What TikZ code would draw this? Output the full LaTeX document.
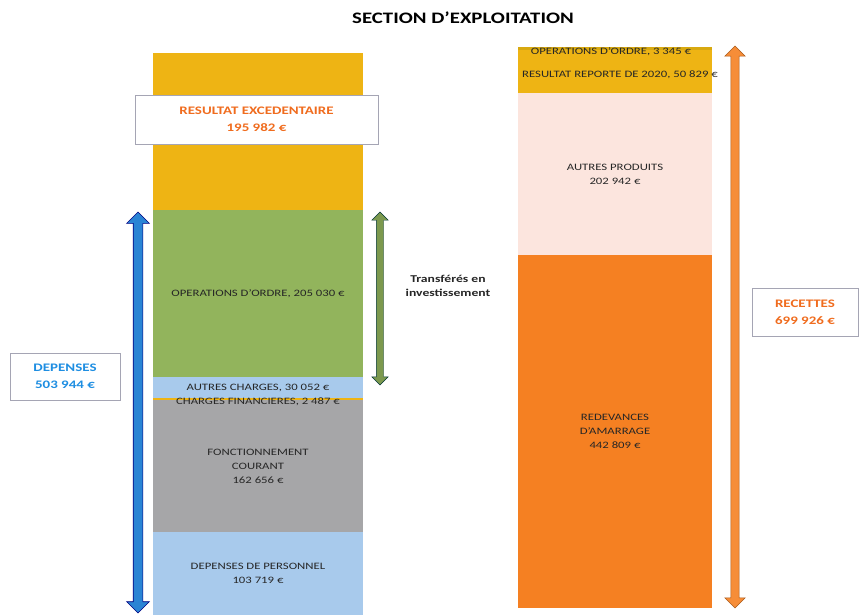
\documentclass[tikz,border=0pt]{standalone}
\usepackage{fontspec}
\setmainfont{Carlito}[FakeStretch=1.3]
\usetikzlibrary{shapes,arrows,shapes.geometric}

\definecolor{jaune}{RGB}{238,180,20}
\definecolor{vert}{RGB}{146,180,92}
\definecolor{bleuclair}{RGB}{168,202,236}
\definecolor{gris}{RGB}{166,166,168}
\definecolor{rose}{RGB}{252,229,222}
\definecolor{orange}{RGB}{245,128,34}
\definecolor{bleu}{RGB}{42,132,212}
\definecolor{textorange}{RGB}{240,108,30}
\definecolor{textbleu}{RGB}{30,142,226}
\definecolor{cadre}{RGB}{165,165,180}

\begin{document}
\begin{tikzpicture}[
	x=1pt, y=-1pt,
	bloc/.style={anchor=north west,inner sep=0,outer sep=0,align=center,text=black!85,font=\fontsize{9.8}{14}\selectfont},
	txt/.style={inner sep=0,align=center,text=black!85,font=\fontsize{9.8}{14}\selectfont},
	etiquette/.style={draw=cadre,fill=white,line width=0.6pt,inner sep=0,align=center,font=\bfseries\fontsize{11.5}{17}\selectfont},
	fleche/.style={double arrow,rotate=90,inner sep=4.5pt,double arrow head extend=6.5pt,double arrow tip angle=90,line width=0.6pt}
	]
	\useasboundingbox (0,0) rectangle (860,615);
	\node [font=\bfseries\fontsize{16}{18}\selectfont] (titre) at (463,18) {SECTION D'EXPLOITATION};

	\node [bloc,fill=jaune,minimum width=210,minimum height=157] (excedent) at (153,53) {};
	\node [bloc,fill=vert,minimum width=210,minimum height=167] (ordre) at (153,210) {OPERATIONS D'ORDRE, 205 030 €};
	\node [bloc,fill=bleuclair,minimum width=210,minimum height=21] (autres) at (153,377) {AUTRES CHARGES, 30 052 €};
	\node [bloc,fill=jaune,minimum width=210,minimum height=2] (financieres) at (153,398) {};
	\node [bloc,fill=gris,minimum width=210,minimum height=132] (courant) at (153,400) {FONCTIONNEMENT\\COURANT\\162 656 €};
	\node [bloc,fill=bleuclair,minimum width=210,minimum height=83] (personnel) at (153,532) {DEPENSES DE PERSONNEL\\103 719 €};
	\node [txt] (financierestxt) at (258,402) {CHARGES FINANCIERES, 2 487 €};

	\node [bloc,fill=jaune!80!olive,minimum width=194,minimum height=3] (ordrerec) at (518,47) {};
	\node [bloc,fill=jaune,minimum width=194,minimum height=43] (reporte) at (518,50) {};
	\node [bloc,fill=rose,minimum width=194,minimum height=162] (produits) at (518,93) {AUTRES PRODUITS\\202 942 €};
	\node [bloc,fill=orange,minimum width=194,minimum height=353] (amarrage) at (518,255) {REDEVANCES\\D'AMARRAGE\\442 809 €};
	\node [txt] (ordrerectxt) at (611,52) {OPERATIONS D'ORDRE, 3 345 €};
	\node [txt] (reportetxt) at (620,75) {RESULTAT REPORTE DE 2020, 50 829 €};

	\node [etiquette,text=textorange,minimum width=243,minimum height=49] (resultat) at (256.5,119.5) {RESULTAT EXCEDENTAIRE\\195 982 €};
	\node [etiquette,text=textbleu,minimum width=110,minimum height=47] (depenses) at (65,376.5) {DEPENSES\\503 944 €};
	\node [etiquette,text=textorange,minimum width=106,minimum height=48] (recettes) at (805,312) {RECETTES\\699 926 €};

	\node [fleche,fill=bleu,draw=blue!50!black,minimum height=401] (flechedep) at (138,412.5) {};
	\node [fleche,fill=vert!85!black,draw=teal!40!black,line width=0.4pt,inner sep=3.5pt,double arrow head extend=4.5pt,minimum height=173] (flechetransfert) at (380,298.5) {};
	\node [fleche,fill=orange!90!white,draw=orange!70!black,inner sep=3.8pt,double arrow head extend=6pt,minimum height=562] (flecherec) at (735,327) {};
	\node [txt,font=\bfseries\fontsize{10.5}{14}\selectfont] (transfert) at (448,286) {Transférés en\\investissement};
\end{tikzpicture}
\end{document}
